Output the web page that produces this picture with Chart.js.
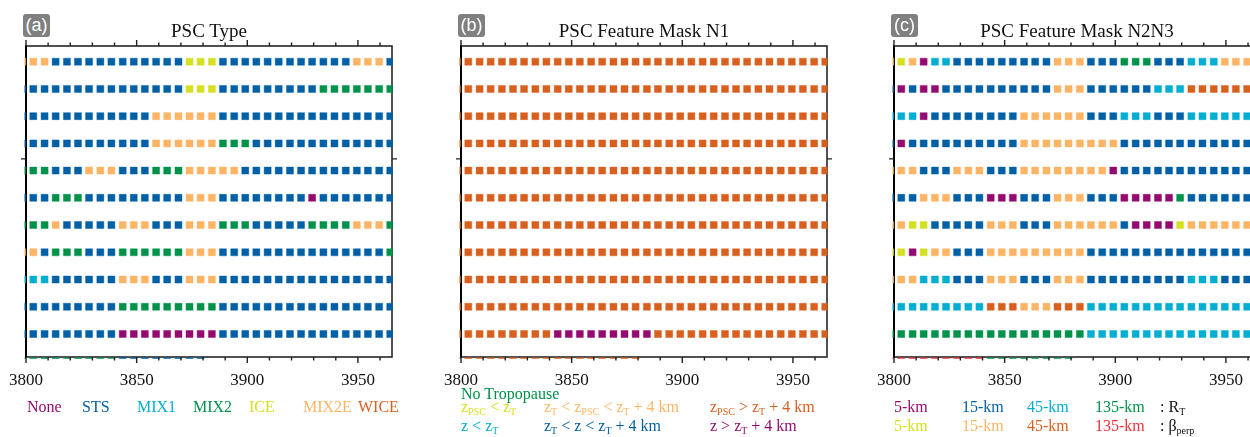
<!DOCTYPE html>
<html>
<head>
<meta charset="utf-8">
<script src="https://cdn.jsdelivr.net/npm/chart.js@4.4.1/dist/chart.umd.min.js"></script>
<style>
  html, body { margin: 0; padding: 0; background: #fff; width: 1250px; height: 437px; overflow: hidden; position: relative; }
  canvas { position: absolute; top: 0; }
  .title { position: absolute; top: 21px; width: 366px; text-align: center; font: 19px/19px 'Liberation Serif', serif; color: #111; white-space: nowrap; }
  .tag { position: absolute; top: 14px; width: 27px; height: 23px; background: #808080; border-radius: 3px; color: #fff; text-align: center; font: 18px/23px 'Liberation Sans', sans-serif; }
  .lg { position: absolute; font: 16px/16px 'Liberation Serif', serif; white-space: nowrap; }
  .lg sub { font-size: 10px; vertical-align: -3px; line-height: 0; }
  .cN { color: #930b6f; } .cS { color: #0060a6; } .cM { color: #00aed2; } .cG { color: #00914a; }
  .cY { color: #d5e022; } .cL { color: #fdb565; } .cO { color: #d8601f; } .cR { color: #f0303c; } .cK { color: #111; }
</style>
</head>
<body>
<canvas id="panelA" width="414" height="437" style="left:2px"></canvas>
<canvas id="panelB" width="414" height="437" style="left:437px"></canvas>
<canvas id="panelC" width="414" height="437" style="left:870px"></canvas>

<div class="tag" style="left:23px">(a)</div>
<div class="tag" style="left:458px">(b)</div>
<div class="tag" style="left:891px">(c)</div>
<div class="title" style="left:26px">PSC Type</div>
<div class="title" style="left:461px">PSC Feature Mask N1</div>
<div class="title" style="left:894px">PSC Feature Mask N2N3</div>

<!-- PSC composition classes -->
<div class="lg cN" style="left:27px;top:399px">None</div>
<div class="lg cS" style="left:82px;top:399px">STS</div>
<div class="lg cM" style="left:137px;top:399px">MIX1</div>
<div class="lg cG" style="left:193px;top:399px">MIX2</div>
<div class="lg cY" style="left:249px;top:399px">ICE</div>
<div class="lg cL" style="left:303px;top:399px">MIX2E</div>
<div class="lg cO" style="left:358px;top:399px">WICE</div>

<!-- Height relative to the tropopause -->
<div class="lg cG" style="left:461px;top:385.5px">No Tropopause</div>
<div class="lg cY" style="left:461px;top:399px">z<sub>PSC</sub> &lt; z<sub>T</sub></div>
<div class="lg cL" style="left:544px;top:399px">z<sub>T</sub> &lt; z<sub>PSC</sub> &lt; z<sub>T</sub> + 4 km</div>
<div class="lg cO" style="left:710px;top:399px">z<sub>PSC</sub> &gt; z<sub>T</sub> + 4 km</div>
<div class="lg cM" style="left:461px;top:418px">z &lt; z<sub>T</sub></div>
<div class="lg cS" style="left:544px;top:418px">z<sub>T</sub> &lt; z &lt; z<sub>T</sub> + 4 km</div>
<div class="lg cN" style="left:710px;top:418px">z &gt; z<sub>T</sub> + 4 km</div>

<!-- Averaging scale of detection -->
<div class="lg cN" style="left:894px;top:399px">5-km</div>
<div class="lg cS" style="left:962px;top:399px">15-km</div>
<div class="lg cM" style="left:1027px;top:399px">45-km</div>
<div class="lg cG" style="left:1095px;top:399px">135-km</div>
<div class="lg cK" style="left:1160px;top:399px">: R<sub>T</sub></div>
<div class="lg cY" style="left:894px;top:418px">5-km</div>
<div class="lg cL" style="left:962px;top:418px">15-km</div>
<div class="lg cO" style="left:1027px;top:418px">45-km</div>
<div class="lg cR" style="left:1095px;top:418px">135-km</div>
<div class="lg cK" style="left:1160px;top:418px">: &beta;<sub>perp</sub></div>

<script>
// Along-track position of each profile column
const profileKm = [3798.3, 3803.3, 3808.4, 3813.4, 3818.5, 3823.5, 3828.5, 3833.6, 3838.6, 3843.7,
                   3848.7, 3853.7, 3858.8, 3863.8, 3868.9, 3873.9, 3878.9, 3884.0, 3889.0, 3894.1,
                   3899.1, 3904.1, 3909.2, 3914.2, 3919.3, 3924.3, 3929.3, 3934.4, 3939.4, 3944.5,
                   3949.5, 3954.5, 3959.6, 3964.6];
// Row index (top to bottom)
const rowPositions = [1, 2, 3, 4, 5, 6, 7, 8, 9, 10, 11, 12];

// Axis ticks
const xTickValues = [3800, 3810, 3820, 3830, 3840, 3850, 3860, 3870, 3880, 3890,
                     3900, 3910, 3920, 3930, 3940, 3950, 3960];
const xMajorTicks = [3800, 3850, 3900, 3950];
const yTickValues = [4.57];

// Class code per cell, one string per row; '-' = no feature
// N None, S STS, M MIX1, G MIX2, Y ICE, L MIX2E, O WICE
const typeRows = [
  'LLLSSSSSSSSSSSSYYYSSSSSSSSSSSSLLLS',
  'SSSSSSSSSSSSSSSYYYSSSSSSSSSGGGGGGG',
  'SSSSSSSSSSSSLLLLLLSSSSSSSSSSSSSSSS',
  'SSSSSSSSSSSSLLLLLLGGGSSSSSSSSSSSSS',
  'GGGSSSLLLSSSGGGLLLLLSSSSSSSSSSSSSS',
  'SSSGGGSSSSSSSSSLLLSSSSSSSSNSSSSSSS',
  'GGGLSSSSSLLLSSSLLLGGGSSSSSGGGGLLLG',
  'LLSGGGSSSGGGGGGLLLSSSSSSSSSSSSSSSG',
  'MMMSSSSSSLLLSSSLLLSSSSSSSSSSSSSSSS',
  'SSSSSSSSSGGGGGGGGGSSSSSSSSSSSSSSSS',
  'SSSSSSSSSNNNNNNNNNSSSSSSSSSSSSSSSS',
  'GGGGGGGGGSSSSSSSS-----------------'
];

// Feature mask N1: O z_PSC > z_T + 4 km, N z > z_T + 4 km
const maskN1Rows = [
  'OOOOOOOOOOOOOOOOOOOOOOOOOOOOOOOOOO',
  'OOOOOOOOOOOOOOOOOOOOOOOOOOOOOOOOOO',
  'OOOOOOOOOOOOOOOOOOOOOOOOOOOOOOOOOO',
  'OOOOOOOOOOOOOOOOOOOOOOOOOOOOOOOOOO',
  'OOOOOOOOOOOOOOOOOOOOOOOOOOOOOOOOOO',
  'OOOOOOOOOOOOOOOOOOOOOOOOOOOOOOOOOO',
  'OOOOOOOOOOOOOOOOOOOOOOOOOOOOOOOOOO',
  'OOOOOOOOOOOOOOOOOOOOOOOOOOOOOOOOOO',
  'OOOOOOOOOOOOOOOOOOOOOOOOOOOOOOOOOO',
  'OOOOOOOOOOOOOOOOOOOOOOOOOOOOOOOOOO',
  'OOOOOOOOONNNNNNNNNOOOOOOOOOOOOOOOO',
  'OOOOOOOOOOOOOOOOO-----------------'
];

// Feature mask N2N3: N 5-km R_T, S 15-km R_T, M 45-km R_T, G 135-km R_T,
// Y 5-km beta, L 15-km beta, O 45-km beta, R 135-km beta
const maskN2N3Rows = [
  'LYLNMMSSSSSSSSSLLLSSSGGGSSSMMMLLLL',
  'SNSNNSSSSSSSSSSLLLSSSSSSMMMOOOOOOO',
  'MMMNSSSSSSSSLLLLLLSSSMMMSSSMMMMMMM',
  'SNSSSSSSSSSSLLLLLLLLLSSSSSSSSSSSSS',
  'LLLSSSLLLSSSLLLLLLLLNSSSSSSSSSSSSS',
  'SSSLLLSSSNNNSSSLLLSSSNNNNNGSSSSSSS',
  'LLYYSSSSSLLLSSSLLLLLLSNNNNYLLLLLLL',
  'YYNYLLSSSLLLLLLLLLSSSSSSSSSSSSSSSS',
  'LLLMMMSSSLLLSSSLLLSSSSSSSSSMMMSSSS',
  'MMMMMMMMMOOOLLLOOOMMMMMMMMMMMMMMMM',
  'GGGGGGGGGGGGGGGGGGMMMMMMMMMMMMMMMM',
  'RRRRRRRRRGGGGGGGG-----------------'
];

const palette = {
  N: '#930b6f', S: '#0060a6', M: '#00aed2', G: '#00914a',
  Y: '#d5e022', L: '#fdb565', O: '#d8601f', R: '#f0303c'
};

// Frame, outward tick marks (minor + major) on all sides
const frameTicks = {
  id: 'frameTicks',
  beforeDatasetsDraw(chart) {
    const { ctx, chartArea: a } = chart;
    ctx.save();
    ctx.strokeStyle = '#262626';
    ctx.lineWidth = 1.6;
    ctx.strokeRect(a.left, a.top, a.right - a.left, a.bottom - a.top);
    ctx.strokeStyle = '#000';
    ctx.lineWidth = 2;
    ctx.beginPath();
    ctx.moveTo(a.left, a.top - 0.8);
    ctx.lineTo(a.left, a.bottom + 0.8);
    ctx.stroke();
    ctx.restore();
  },
  afterDatasetsDraw(chart) {
    const { ctx, chartArea: a, scales: { x, y } } = chart;
    ctx.save();
    ctx.strokeStyle = '#222';
    ctx.lineWidth = 1.4;
    ctx.beginPath();
    for (const v of xTickValues) {
      const px = x.getPixelForValue(v);
      const len = xMajorTicks.includes(v) ? 6 : 3.5;
      ctx.moveTo(px, a.bottom);
      ctx.lineTo(px, a.bottom + len);
      ctx.moveTo(px, a.top);
      ctx.lineTo(px, a.top - len);
    }
    for (const v of yTickValues) {
      const py = y.getPixelForValue(v);
      ctx.moveTo(a.left, py);
      ctx.lineTo(a.left - 5, py);
      ctx.moveTo(a.right, py);
      ctx.lineTo(a.right + 5, py);
    }
    ctx.stroke();
    ctx.restore();
  }
};

function buildDatasets(rows) {
  const codes = Object.keys(palette).filter(c => rows.some(r => r.includes(c)));
  return codes.map(code => {
    const data = [];
    rows.forEach((row, r) => {
      for (let i = 0; i < row.length && i < profileKm.length; i++) {
        if (row[i] === code) data.push({ x: profileKm[i], y: rowPositions[r] });
      }
    });
    return {
      label: code,
      data,
      pointStyle: 'rect',
      pointRadius: 4.95,
      pointHoverRadius: 4.95,
      backgroundColor: palette[code],
      borderColor: palette[code] + '70',
      borderWidth: 1,
      clip: { left: 1.5, right: 0.5, top: 0, bottom: 1.8 }
    };
  });
}

function makePanel(id, rows) {
  new Chart(document.getElementById(id), {
    type: 'scatter',
    data: { datasets: buildDatasets(rows) },
    plugins: [frameTicks],
    options: {
      responsive: false,
      animation: false,
      events: [],
      layout: { padding: { left: 24, right: 24, top: 46, bottom: 40 } },
      plugins: { legend: { display: false }, tooltip: { enabled: false }, title: { display: false } },
      scales: {
        x: {
          type: 'linear',
          position: 'bottom',
          min: 3800,
          max: 3965.4,
          afterFit: s => { s.height = 40; s.paddingLeft = 0; s.paddingRight = 0; },
          grid: { display: false, drawTicks: false },
          border: { display: false },
          ticks: {
            stepSize: 50,
            includeBounds: false,
            autoSkip: false,
            maxRotation: 0,
            padding: 13,
            color: '#111',
            font: { family: 'Liberation Serif', size: 17 },
            callback: v => String(v)
          }
        },
        y: {
          type: 'linear',
          display: false,
          reverse: true,
          min: 0.424,
          max: 11.845
        }
      }
    }
  });
}

makePanel('panelA', typeRows);
makePanel('panelB', maskN1Rows);
makePanel('panelC', maskN2N3Rows);
</script>
</body>
</html>
